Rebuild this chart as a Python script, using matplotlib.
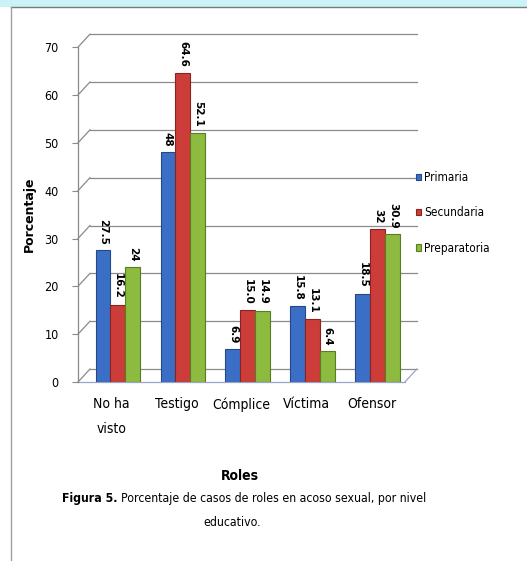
import matplotlib.pyplot as plt
import matplotlib.transforms as mtransforms
from matplotlib.lines import Line2D
from matplotlib.patches import Rectangle
import numpy as np

roles = ['No ha\nvisto', 'Testigo', 'Cómplice', 'Víctima', 'Ofensor']
primaria = [27.5, 48, 6.9, 15.8, 18.5]
secundaria = [16.2, 64.6, 15.0, 13.1, 32]
preparatoria = [24, 52.1, 14.9, 6.4, 30.9]
etiquetas = [
	['27.5', '48', '6.9', '15.8', '18.5'],
	['16.2', '64.6', '15.0', '13.1', '32'],
	['24', '52.1', '14.9', '6.4', '30.9'],
]
series = ['Primaria', 'Secundaria', 'Preparatoria']
colores = ['#3b6fc6', '#cc3d3a', '#8cbb3f']
bordes = ['#24488a', '#8a2220', '#5a7d22']

fuente = dict(family='DejaVu Sans', stretch='condensed')

fig = plt.figure(figsize=(5.27, 5.61), dpi=100)
ax = fig.add_axes([0.148, 0.319, 0.643, 0.597])

x = np.arange(len(roles))
w = 0.23
x0, x1 = -0.615, 4.6
xf = 4.415
ax.set_xlim(x0, x1)
ax.set_ylim(0, 70)

# desplazamiento de la pared del fondo (efecto 3D)
off = mtransforms.ScaledTranslation(0.12, 0.13, fig.dpi_scale_trans)
back = ax.transData + off
gris = '#8a8a8a'

for v in range(0, 71, 10):
	ax.plot([x0, xf], [v, v], color=gris, lw=0.9, transform=back, clip_on=False, zorder=0)
	p0 = ax.transData.transform((x0, v))
	p1 = back.transform((x0, v))
	fig.add_artist(Line2D([p0[0], p1[0]], [p0[1], p1[1]], transform=None, color=gris, lw=0.9))

# piso
p0 = ax.transData.transform((xf, 0))
p1 = back.transform((xf, 0))
fig.add_artist(Line2D([p0[0], p1[0]], [p0[1], p1[1]], transform=None, color='#9aa4c8', lw=0.9))
ax.plot([x0, xf], [0, 0], color='#9aa4c8', lw=0.9, clip_on=False)
ax.plot([x0, x0], [0, 70], color=gris, lw=0.9, clip_on=False)

for i, vals in enumerate([primaria, secundaria, preparatoria]):
	pos = x + (i - 1) * w
	ax.bar(pos, vals, width=w, color=colores[i], edgecolor=bordes[i], linewidth=0.8,
		label=series[i], zorder=3 + i)
	for xp, val, t in zip(pos, vals, etiquetas[i]):
		ax.text(xp, val + 1.2, t, rotation=-90, ha='center', va='bottom',
			fontsize=7.5, fontweight='bold', zorder=10)

for s in ax.spines.values():
	s.set_visible(False)
ax.set_yticks(range(0, 71, 10))
ax.set_xticks(x - 0.1)
ax.set_xticklabels(roles, fontsize=10, linespacing=2.0, va='top', **fuente)
ax.tick_params(axis='x', length=0, pad=11)
ax.tick_params(axis='y', length=4, color=gris, labelsize=9, pad=10)
for lab in ax.get_yticklabels():
	lab.set_fontstretch('condensed')

ax.set_ylabel('Porcentaje', fontsize=9, fontweight='bold', labelpad=6)

ax.legend(loc='center left', bbox_to_anchor=(0.965, 0.505), frameon=False,
	prop={'family': 'DejaVu Sans', 'stretch': 'condensed', 'size': 8.5}, handlelength=0.45,
	handleheight=0.45, handletextpad=0.3, labelspacing=1.9)

fig.text(0.455, 0.145, 'Roles', ha='center', fontsize=10, fontweight='bold', **fuente)
t1 = fig.text(0.118, 0.105, 'Figura 5.', ha='left', fontsize=8.8, fontweight='bold', **fuente)
r = fig.canvas.get_renderer()
bb = t1.get_window_extent(r)
fig.text(bb.x1 / fig.bbox.width + 0.006, 0.105,
	'Porcentaje de casos de roles en acoso sexual, por nivel', ha='left', fontsize=8.8, **fuente)
fig.text(0.44, 0.063, 'educativo.', ha='center', fontsize=8.8, **fuente)

# marco de la página
fig.add_artist(Rectangle((0, 0.988), 1, 0.012, color='#c9f3f7', lw=0))
fig.add_artist(Line2D([0.021, 1.0], [0.987, 0.987], color='#7a7a7a', lw=1.0))
fig.add_artist(Line2D([0.021, 0.021], [0.0, 0.987], color='#a0a0a0', lw=1.0))

fig.savefig('out.png', dpi=100)
